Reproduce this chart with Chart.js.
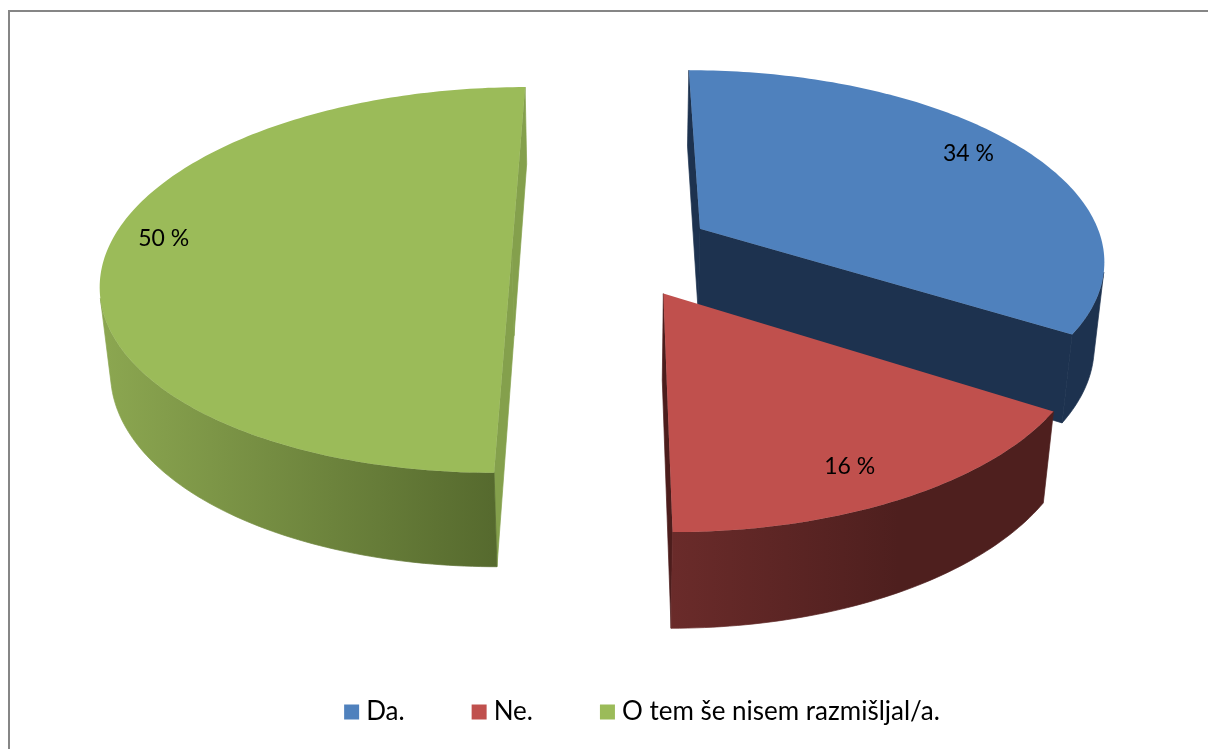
<!DOCTYPE html>
<html><head><meta charset="utf-8">
<style>html,body{margin:0;padding:0;background:#fff}#wrap{width:1208px;height:749px}canvas{display:block}</style>
<script src="https://cdn.jsdelivr.net/npm/chart.js@4/dist/chart.umd.min.js"></script>
</head><body><div id="wrap"><canvas id="c" width="1208" height="749"></canvas></div>
<script>
const categories = ['Da.', 'Ne.', 'O tem še nisem razmišljal/a.'];
const shares = [34, 16, 50];
const shareLabels = ['34 %', '16 %', '50 %'];
const topColors = ['#4f81bd', '#c0504d', '#9bbb59'];
const cutColors = ['#1d324f', '#4c1d1c', '#84a04c'];
const wallStops = [
  [[30, '#1d324f'], [90, '#1d324f']],
  [[90, '#6a2b2a'], [62, '#4e1f1e'], [30, '#4e1f1e']],
  [[90, '#566a2e'], [180, '#8ba650']]
];
const labelNudge = [[-6, -5], [-14, 3], [-4, -12]];
const view = {cx: 613, cy: 251, ax: 405, ay: 188.5, depth: 86.5, p: 0.15, q: 0.021};
const fontFamily = 'Lato, Carlito, sans-serif';
const legendTop = 626;

function project(u, v, z) {
  const w = 1 - view.p * v + view.q * z;
  return [view.cx + view.ax * u / w, view.cy + (view.ay * v + view.depth * z) / w];
}
function area(pts) {
  let s = 0;
  for (let i = 0; i < pts.length; i++) {
    const a = pts[i], b = pts[(i + 1) % pts.length];
    s += a[0] * b[1] - b[0] * a[1];
  }
  return s / 2;
}
function poly(ctx, pts, color, seam) {
  ctx.beginPath();
  pts.forEach((p, i) => i ? ctx.lineTo(p[0], p[1]) : ctx.moveTo(p[0], p[1]));
  ctx.closePath();
  ctx.fillStyle = color;
  ctx.fill();
  if (seam) { ctx.strokeStyle = color; ctx.lineWidth = 0.7; ctx.stroke(); }
}

const pie3d = {
  id: 'pie3d',
  beforeDraw(chart) {
    const ctx = chart.ctx;
    ctx.save();
    ctx.fillStyle = '#fff';
    ctx.fillRect(0, 0, chart.width, chart.height);
    ctx.fillStyle = '#868686';
    ctx.fillRect(8, 10, chart.width - 8, 2);
    ctx.fillRect(8, 10, 2, chart.height - 10);
    ctx.restore();
  },
  afterLayout(chart) {
    const l = chart.legend;
    l.top = legendTop;
    l.bottom = chart.height;
    l.height = chart.height - legendTop;
  },
  beforeDatasetDraw(chart) {
    const ctx = chart.ctx;
    const arcs = chart.getDatasetMeta(0).data;
    ctx.save();
    arcs.forEach((el, i) => {
      const R = el.outerRadius, off = el.options.offset / R;
      const s = el.startAngle, e = el.endAngle, mid = (s + e) / 2;
      const ox = Math.cos(mid) * off, oy = Math.sin(mid) * off;
      const at = (ang, z) => project(ox + Math.cos(ang), oy + Math.sin(ang), z);
      const apex = z => project(ox, oy, z);
      const n = Math.max(2, Math.round((e - s) * 180 / Math.PI));
      const rim = [];
      for (let k = 0; k <= n; k++) rim.push(s + (e - s) * k / n);
      const top = [apex(0)].concat(rim.map(a => at(a, 0)));
      const sign = Math.sign(area(top));
      const faces = [
        [at(s, 0), apex(0), apex(1), at(s, 1)],
        [apex(0), at(e, 0), at(e, 1), apex(1)]
      ];
      faces.forEach(f => { if (Math.sign(area(f)) === sign) poly(ctx, f, cutColors[i], true); });
      const vis = [];
      for (let k = 0; k < n; k++) {
        const f = [at(rim[k + 1], 0), at(rim[k], 0), at(rim[k], 1), at(rim[k + 1], 1)];
        if (Math.sign(area(f)) === sign) { if (!vis.length) vis.push(rim[k]); vis.push(rim[k + 1]); }
      }
      if (vis.length) {
        const stops = wallStops[i].map(([d, c]) => [at(d * Math.PI / 180, 0)[0], c]);
        const x0 = Math.min(...stops.map(t => t[0])), x1 = Math.max(...stops.map(t => t[0]));
        const g = ctx.createLinearGradient(x0, 0, x1, 0);
        stops.forEach(([x, c]) => g.addColorStop((x - x0) / (x1 - x0), c));
        const wall = vis.map(a => at(a, 0)).concat(vis.slice().reverse().map(a => at(a, 1)));
        poly(ctx, wall, g, true);
      }
      poly(ctx, top, topColors[i], false);
    });
    ctx.fillStyle = '#000';
    ctx.font = '23px ' + fontFamily;
    ctx.textAlign = 'center';
    ctx.textBaseline = 'middle';
    arcs.forEach((el, i) => {
      const R = el.outerRadius, off = el.options.offset / R;
      const mid = (el.startAngle + el.endAngle) / 2;
      const r = off + 0.85;
      const p = project(Math.cos(mid) * r, Math.sin(mid) * r, 0);
      ctx.fillText(shareLabels[i], p[0] + labelNudge[i][0], p[1] + labelNudge[i][1]);
    });
    ctx.restore();
    return false;
  }
};

new Chart(document.getElementById('c'), {
  type: 'pie',
  data: {
    labels: categories,
    datasets: [{data: shares, backgroundColor: topColors, borderWidth: 0, offset: 71}]
  },
  options: {
    responsive: false,
    animation: false,
    layout: {padding: {left: 82}},
    plugins: {
      tooltip: {enabled: false},
      legend: {
        position: 'bottom',
        labels: {
          color: '#000',
          font: {family: fontFamily, size: 26},
          boxWidth: 3,
          boxHeight: 3,
          padding: 73,
          generateLabels: () => categories.map((t, i) => ({
            text: t, fillStyle: topColors[i], strokeStyle: topColors[i], lineWidth: 12, index: i, hidden: false
          }))
        }
      }
    }
  },
  plugins: [pie3d]
});
</script></body></html>
